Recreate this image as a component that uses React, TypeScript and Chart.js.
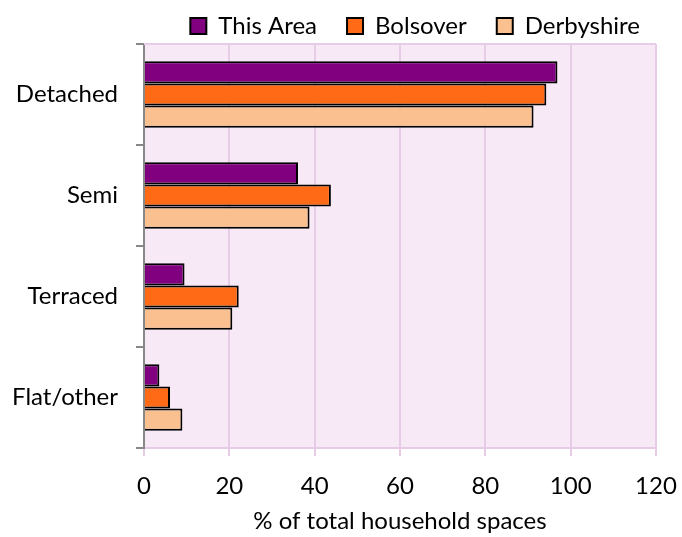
import React, { useEffect, useRef } from "react";
import { Chart, registerables } from "chart.js";

Chart.register(...registerables);

const categories = ["Detached", "Semi", "Terraced", "Flat/other"];
const seriesNames = ["This Area", "Bolsover", "Derbyshire"];
const thisArea = [96.9, 36.1, 9.5, 3.6];
const bolsover = [94.3, 43.8, 22.2, 6.1];
const derbyshire = [91.3, 38.8, 20.7, 9.0];
const xTicks = [0, 20, 40, 60, 80, 100, 120];
const axisTitle = "% of total household spaces";

const colors = ["#800080", "#FF6A16", "#FAC090"];
const FONT = "Lato, 'Noto Sans', sans-serif";
const FS = 24;

const plotBg = {
  id: "plotBg",
  afterLayout(chart: any) {
    const lg = chart.legend;
    if (lg) {
      const bottom = lg.bottom;
      lg.top = -16;
      lg.bottom = bottom;
      lg.height = bottom - lg.top;
      lg.right = lg.right + 14;
      lg.width = lg.right - lg.left;
    }
  },
  beforeDraw(chart: any) {
    const { ctx, chartArea } = chart;
    ctx.save();
    ctx.fillStyle = "#F7E9F6";
    ctx.fillRect(chartArea.left, chartArea.top, chartArea.right - chartArea.left, chartArea.bottom - chartArea.top);
    ctx.restore();
  },
  afterDraw(chart: any) {
    const { ctx, chartArea } = chart;
    ctx.save();
    ctx.strokeStyle = "#E6CCE6";
    ctx.lineWidth = 2;
    ctx.beginPath();
    ctx.moveTo(chartArea.left, chartArea.top);
    ctx.lineTo(chartArea.right, chartArea.top);
    ctx.stroke();
    ctx.restore();
  },
};

export default function App() {
  const ref = useRef<HTMLCanvasElement>(null);
  useEffect(() => {
    document.body.style.margin = "0";
    const data = [thisArea, bolsover, derbyshire];
    const chart = new Chart(ref.current!, {
      type: "bar",
      data: {
        labels: categories,
        datasets: seriesNames.map((name, i) => ({
          label: name,
          data: data[i],
          backgroundColor: colors[i],
          borderColor: "#000000",
          borderWidth: 2,
          categoryPercentage: 0.66,
          barPercentage: 1,
        })),
      },
      options: {
        indexAxis: "y",
        animation: false,
        responsive: false,
        layout: { padding: { top: 0, right: 26, left: 0, bottom: 0 } },
        plugins: {
          tooltip: { enabled: false },
          legend: {
            position: "top",
            align: "end",
            maxHeight: 44,
            labels: {
              font: { family: FONT, size: FS },
              color: "#000",
              boxWidth: 16,
              boxHeight: 16,
              padding: 30,
            },
          },
        },
        scales: {
          x: {
            type: "linear",
            min: 0,
            max: 120,
            afterBuildTicks: (s: any) => {
              s.ticks = xTicks.map((v) => ({ value: v }));
            },
            afterFit: (s: any) => {
              s.height = 89;
              s.paddingLeft = 0;
              s.paddingRight = 0;
            },
            grid: { color: "#E6CCE6", lineWidth: 2, tickLength: 8, drawTicks: true },
            border: { color: "#E6CCE6", width: 2 },
            ticks: { font: { family: FONT, size: FS }, color: "#000", padding: 16 },
            title: {
              display: true,
              text: axisTitle,
              font: { family: FONT, size: FS },
              color: "#000",
              padding: { top: 1, bottom: 1 },
            },
          },
          y: {
            afterFit: (s: any) => {
              s.width = 144;
              s.paddingTop = 0;
              s.paddingBottom = 0;
            },
            grid: { drawOnChartArea: false, drawTicks: true, tickLength: 8, color: "#888888", lineWidth: 2 },
            border: { color: "#888888", width: 2 },
            ticks: { font: { family: FONT, size: FS }, color: "#000", padding: 18 },
          },
        },
      },
      plugins: [plotBg],
    });
    return () => chart.destroy();
  }, []);
  return <canvas ref={ref} width={682} height={537} style={{ display: "block" }} />;
}
